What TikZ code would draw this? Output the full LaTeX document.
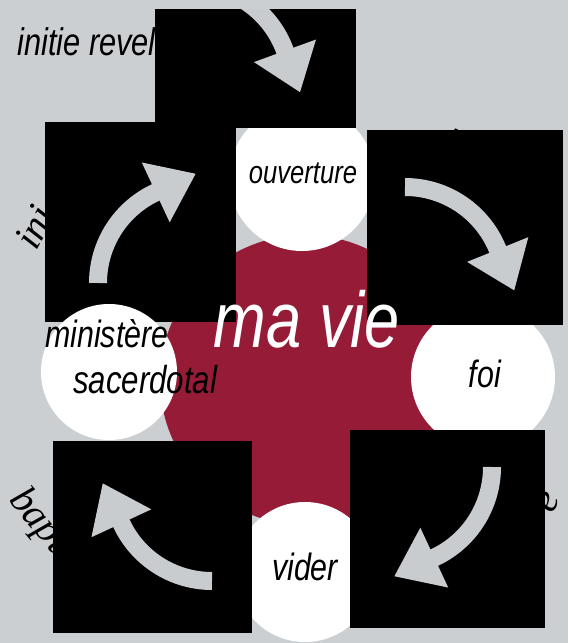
\documentclass[tikz,border=0pt]{standalone}
\usepackage{fontspec}
\setmainfont{Liberation Sans}
\newfontfamily\condsans[FakeStretch=0.8]{Liberation Sans}
\newfontfamily\arcserif{Liberation Serif}
\usetikzlibrary{calc}
\definecolor{bggray}{HTML}{CCCFD2}
\definecolor{crimson}{HTML}{961B36}
\definecolor{arrowgray}{HTML}{C9CCCF}
\newcommand\cwarrow[4]{%
  \fill[arrowgray] ($(#1,#2)+(#4:133)$) -- ($(#1,#2)+(#4:67)$) -- ($(#1,#2)+(#4:100)+(#4+90:44)$) -- cycle;
  \draw[arrowgray, line width=18pt] ($(#1,#2)+(#3:100)$) arc[start angle=#3, end angle=#4+1, radius=100];}
\tikzset{
  blacksq/.style={fill=black},
  whitedisc/.style={circle, fill=white, inner sep=0pt, minimum size=#1},
  lbl/.style={font=\condsans\itshape\fontsize{#1}{#1}\selectfont, inner sep=0pt, anchor=base},
  arctxt/.style={font=\arcserif\itshape\fontsize{40}{40}\selectfont, inner sep=0pt, anchor=base west}
}
\begin{document}
\begin{tikzpicture}[x=1pt,y=-1pt]
\useasboundingbox (0,0) rectangle (568,643);
\fill[bggray] (0,0) rectangle (568,643);
% text fragments partly hidden by the squares
\node[lbl=38.5, anchor=base west] (tl) at (17,55) {initie revel};
\node[arctxt, rotate=62] (arcl) at (36,252) {ini};
\node[arctxt, rotate=-50] (arcb) at (8,500) {bapt};
\node[arctxt, rotate=62] (arcr) at (552,515) {e};
\node[arctxt, rotate=-28] (arct) at (444,143) {z};
\node[arctxt, rotate=-25] (arcbot) at (146,664) {dl};
% crimson disc
\node[circle, fill=crimson, minimum size=290pt, inner sep=0pt] (core) at (305,380) {};
% white discs
\node[whitedisc=146pt] (dtop) at (302,178) {};
\node[whitedisc=144pt] (dright) at (483,377) {};
\node[whitedisc=140pt] (dbottom) at (305,572) {};
% black squares
\fill[blacksq] (155,9) rectangle (356,128);
\fill[blacksq] (45,122) rectangle (236,322);
\fill[blacksq] (367,130) rectangle (563,325);
\fill[blacksq] (53,441) rectangle (252,633);
\fill[blacksq] (350,430) rectangle (545,628);
% arrows
\begin{scope}
\clip (155,9) rectangle (356,128);
\cwarrow{191}{85}{285}{340}
\end{scope}
\cwarrow{198}{283}{180}{245}
\cwarrow{405}{287}{270}{338}
\cwarrow{392}{467}{0}{65}
\cwarrow{212}{481}{90}{155}
% left disc above the squares
\node[whitedisc=136pt] (dleft) at (109,372) {};
% labels
\node[lbl=79, text=white] (mavie) at (307,347) {ma vie};
\node[lbl=32] (ouv) at (303,183) {ouverture};
\node[lbl=38] (foi) at (485,387) {foi};
\node[lbl=38] (vider) at (305,580) {vider};
\node[lbl=38, anchor=base west] (min) at (45,347) {ministère};
\node[lbl=39, anchor=base west] (sac) at (73,393) {sacerdotal};
\end{tikzpicture}
\end{document}
